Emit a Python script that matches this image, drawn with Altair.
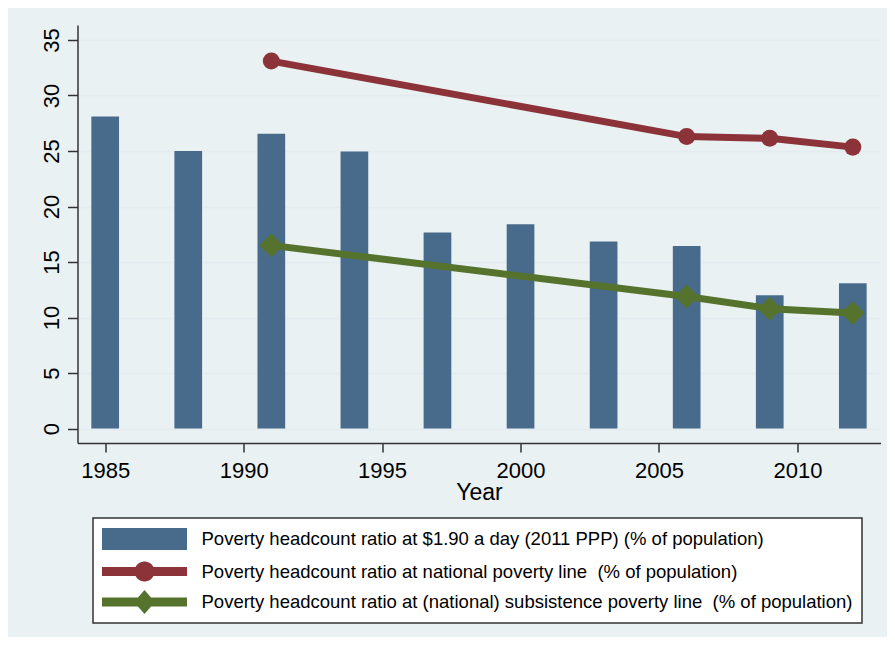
import math
import altair as alt
import pandas as pd

# ---------------- data ----------------
years_bar = [1985, 1988, 1991, 1994, 1997, 2000, 2003, 2006, 2009, 2012]
pov_190 = [28.1, 25.0, 26.55, 24.95, 17.65, 18.4, 16.85, 16.45, 12.0, 13.1]

years_line = [1991, 2006, 2009, 2012]
pov_national = [33.1, 26.3, 26.15, 25.35]
pov_subsistence = [16.5, 11.9, 10.8, 10.4]

series_labels = [
    "Poverty headcount ratio at $1.90 a day (2011 PPP) (% of population)",
    "Poverty headcount ratio at national poverty line\u00a0 (% of population)",
    "Poverty headcount ratio at (national) subsistence poverty line\u00a0 (% of population)",
]

x_ticks = [1985, 1990, 1995, 2000, 2005, 2010]
y_ticks = [0, 5, 10, 15, 20, 25, 30, 35]

# ---------------- style ----------------
BAR = "#486a8b"
RED = "#8b3338"
GREEN = "#56732e"
BG = "#e9f1f3"
GRID = "#e4ecf0"
AXIS = "#333333"
FONT = "Liberation Sans"

# legend symbol paths (unit = 12 px)
HW = 3.542  # half width of swatch


def fmt(v):
    return f"{v:.3f}"


swatch_path = f"M-{HW},-0.917H{HW}V0.917H-{HW}Z"

# line + circle outline
R, T = 0.833, 0.375
a0 = math.atan2(-T, -math.sqrt(R * R - T * T))
a1 = math.atan2(-T, math.sqrt(R * R - T * T))
top_pts = [(R * math.cos(a0 + (a1 - a0) * i / 24), R * math.sin(a0 + (a1 - a0) * i / 24)) for i in range(25)]
bot_pts = [(-x, -y) for (x, y) in top_pts]
circle_path = f"M-{HW},-{T}" + "".join(f"L{fmt(x)},{fmt(y)}" for x, y in top_pts) + \
    f"L{HW},-{T}L{HW},{T}" + "".join(f"L{fmt(x)},{fmt(y)}" for x, y in bot_pts) + f"L-{HW},{T}Z"

DX, DY = 0.875, 1.0
xi = DX * (1 - T / DY)
diamond_path = (f"M-{HW},-{T}H-{fmt(xi)}L0,-{DY}L{fmt(xi)},-{T}H{HW}V{T}"
                f"H{fmt(xi)}L0,{DY}L-{fmt(xi)},{T}H-{HW}Z")

# ---------------- tables ----------------
bars_df = pd.DataFrame({"year": years_bar, "value": pov_190})
nat_df = pd.DataFrame({"year": years_line, "value": pov_national})
sub_df = pd.DataFrame({"year": years_line, "value": pov_subsistence})
legend_df = pd.DataFrame({"series": series_labels})

xscale = alt.Scale(domain=[1984.0, 2013.0], nice=False, zero=False)
yscale = alt.Scale(domain=[-1.3, 36.35], nice=False, zero=False)

x_axis = alt.Axis(values=x_ticks, format="d", title="Year", grid=False,
                  tickSize=9, tickWidth=1.5, tickColor=AXIS,
                  domainColor=AXIS, domainWidth=1.5,
                  labelFont=FONT, labelFontSize=22, labelColor="black", labelPadding=8,
                  titleFont=FONT, titleFontSize=23, titleColor="black",
                  titleFontWeight="normal", titlePadding=0)
y_axis = alt.Axis(values=y_ticks, title=None, grid=True, gridColor=GRID, gridWidth=1.5,
                  tickSize=10, tickWidth=1.5, tickColor=AXIS,
                  domainColor=AXIS, domainWidth=1.5,
                  labelFont=FONT, labelFontSize=22, labelColor="black",
                  labelAngle=270, labelAlign="center", labelBaseline="alphabetic",
                  labelPadding=9)

bars = alt.Chart(bars_df).transform_calculate(
    x0="datum.year - 0.5", x1="datum.year + 0.5"
).mark_bar(color=BAR).encode(
    x=alt.X("x0:Q", scale=xscale, axis=x_axis),
    x2="x1:Q",
    y=alt.Y("value:Q", scale=yscale, axis=y_axis),
    y2=alt.datum(0),
)

nat_line = alt.Chart(nat_df).mark_line(color=RED, strokeWidth=7).encode(
    x=alt.X("year:Q", scale=xscale), y=alt.Y("value:Q", scale=yscale))
nat_pts = alt.Chart(nat_df).mark_point(color=RED, filled=True, opacity=1, shape="circle", size=290).encode(
    x=alt.X("year:Q", scale=xscale), y=alt.Y("value:Q", scale=yscale))

sub_line = alt.Chart(sub_df).mark_line(color=GREEN, strokeWidth=7).encode(
    x=alt.X("year:Q", scale=xscale), y=alt.Y("value:Q", scale=yscale))
sub_pts = alt.Chart(sub_df).mark_point(color=GREEN, filled=True, opacity=1, shape="diamond", size=560).encode(
    x=alt.X("year:Q", scale=xscale), y=alt.Y("value:Q", scale=yscale))

legend = alt.Legend(
    title=None, orient="none", legendX=15.5, legendY=493, direction="vertical",
    padding=9, fillColor="white", strokeColor=AXIS,
    symbolSize=576, symbolStrokeWidth=0, symbolOffset=30.5, symbolOpacity=1,
    rowPadding=8.5, labelOffset=45, labelLimit=0,
    labelFont=FONT, labelFontSize=18.5, labelColor="black",
)

legend_layer = alt.Chart(legend_df).transform_filter("false").mark_point(filled=True, opacity=1).encode(
    color=alt.Color("series:N", scale=alt.Scale(domain=series_labels, range=[BAR, RED, GREEN]), legend=legend),
    shape=alt.Shape("series:N", scale=alt.Scale(domain=series_labels,
                                                range=[swatch_path, circle_path, diamond_path]), legend=legend),
)

chart = alt.layer(bars, sub_line, nat_line, sub_pts, nat_pts, legend_layer).properties(
    width=803, height=418,
    autosize=alt.AutoSizeParams(type="none"),
    padding={"left": 69.5, "top": 17, "right": 6, "bottom": 194},
    background=BG,
).configure_view(fill="white", strokeWidth=0).configure_legend(strokeWidth=1.5)

chart.save("out.html", embed_options={"renderer": "svg", "actions": False})
